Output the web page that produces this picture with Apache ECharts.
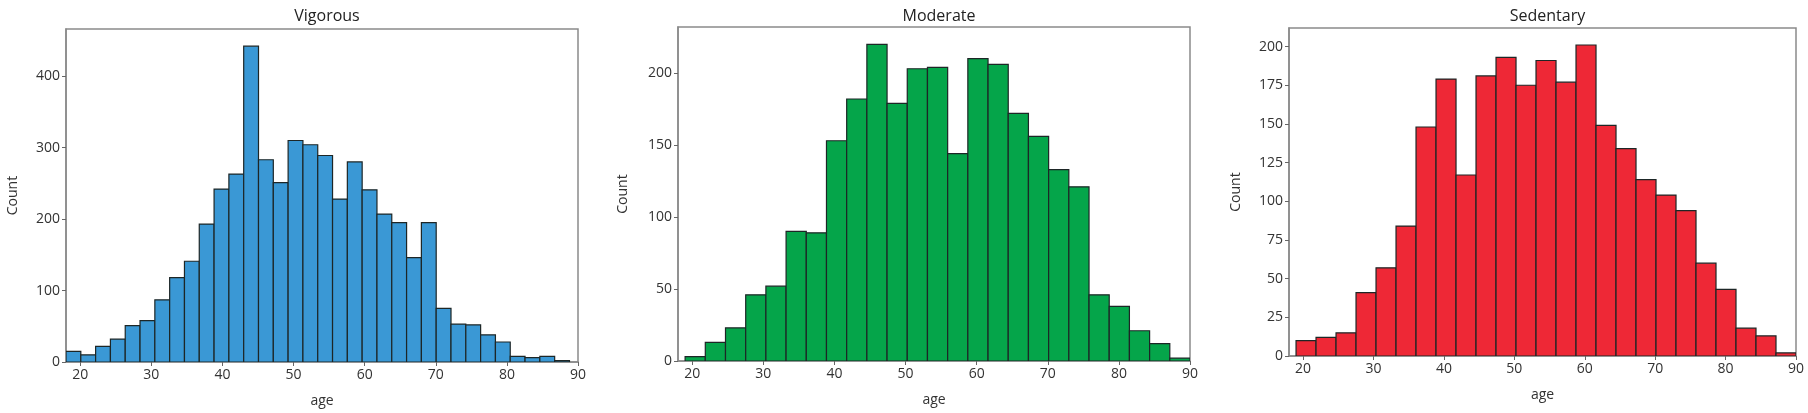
<!DOCTYPE html>
<html>
<head>
<meta charset="utf-8">
<title>age histograms</title>
<script src="https://cdn.jsdelivr.net/npm/echarts@6/dist/echarts.min.js"></script>
<style>
    html, body { margin: 0; padding: 0; background: #fff; }
    #chart { width: 1808px; height: 413px; }
</style>
</head>
<body>
<div id="chart"></div>
<script>
// histogram counts
var vigorousCounts = [15, 10, 22, 32, 51, 58, 87, 118, 141, 193, 242, 263, 442, 283, 251, 310, 304, 289,
    228, 280, 241, 207, 195, 146, 195, 75, 53, 52, 38, 28, 8, 6, 8, 2];
var moderateCounts = [3, 13, 23, 46, 52, 90, 89, 153, 182, 220, 179, 203, 204, 144, 210, 206, 172, 156,
    133, 121, 46, 38, 21, 12, 2];
var sedentaryCounts = [10, 12, 15, 41, 57, 84, 148, 179, 117, 181, 193, 175, 191, 177, 201, 149, 134, 114,
    104, 94, 60, 43, 18, 13, 2];

// bin ranges (first edge, last edge)
var vigorousRange = [18, 88.8];
var moderateRange = [19, 90];
var sedentaryRange = [19, 90];

var ageTicks = [20, 30, 40, 50, 60, 70, 80, 90];
var vigorousTicks = [0, 100, 200, 300, 400];
var moderateTicks = [0, 50, 100, 150, 200];
var sedentaryTicks = [0, 25, 50, 75, 100, 125, 150, 175, 200];

var titles = ['Vigorous', 'Moderate', 'Sedentary'];
var colors = ['#3a98d5', '#05a54a', '#ee2836'];
var yMax = [466, 232, 212];

function bins(counts, range) {
    var w = (range[1] - range[0]) / counts.length;
    var out = [];
    for (var i = 0; i < counts.length; i++) {
        out.push([range[0] + i * w, range[0] + (i + 1) * w, counts[i]]);
    }
    return out;
}

var allBins = [
    bins(vigorousCounts, vigorousRange),
    bins(moderateCounts, moderateRange),
    bins(sedentaryCounts, sedentaryRange)
];
var yTicks = [vigorousTicks, moderateTicks, sedentaryTicks];

var grids = [
    {left: 66, top: 29, width: 512, height: 333},
    {left: 678, top: 27, width: 512, height: 334},
    {left: 1289, top: 28, width: 507, height: 328}
];
var nameGaps = [46, 48, 46];

var font = 'Open Sans';
var option = {
    animation: false,
    title: [],
    grid: [],
    xAxis: [],
    yAxis: [],
    series: []
};

for (var k = 0; k < 3; k++) {
    var g = grids[k];
    option.grid.push({
        left: g.left, top: g.top, width: g.width, height: g.height,
        show: true, borderColor: '#8a8a8a', borderWidth: 1.5, backgroundColor: '#fff'
    });
    option.title.push({
        text: titles[k],
        left: g.left + g.width / 2,
        top: 3,
        textAlign: 'center',
        textStyle: {fontFamily: font, fontSize: 16, fontWeight: 'normal', color: '#222'}
    });
    option.xAxis.push({
        type: 'value', gridIndex: k, min: 18, max: 90,
        name: 'age', nameLocation: 'middle', nameGap: 32,
        nameTextStyle: {fontFamily: font, fontSize: 14, color: '#333'},
        axisLine: {show: true, lineStyle: {color: '#8a8a8a', width: 1.5}},
        axisTick: {show: true, length: 4, customValues: ageTicks, lineStyle: {color: '#666'}},
        axisLabel: {customValues: ageTicks, fontFamily: font, fontSize: 14, color: '#333', margin: 6},
        splitLine: {show: false}
    });
    option.yAxis.push({
        type: 'value', gridIndex: k, min: 0, max: yMax[k],
        name: 'Count', nameLocation: 'middle', nameGap: nameGaps[k],
        nameTextStyle: {fontFamily: font, fontSize: 14, color: '#333'},
        axisLine: {show: true, lineStyle: {color: '#8a8a8a', width: 1.5}},
        axisTick: {show: true, length: 4, customValues: yTicks[k], lineStyle: {color: '#666'}},
        axisLabel: {customValues: yTicks[k], fontFamily: font, fontSize: 14, color: '#333', margin: 6},
        splitLine: {show: false}
    });
    option.series.push({
        type: 'custom',
        xAxisIndex: k,
        yAxisIndex: k,
        clip: true,
        encode: {x: [0, 1], y: 2},
        data: allBins[k],
        renderItem: (function (color) {
            return function (params, api) {
                var p0 = api.coord([api.value(0), api.value(2)]);
                var p1 = api.coord([api.value(1), 0]);
                return {
                    type: 'rect',
                    shape: {x: p0[0], y: p0[1], width: p1[0] - p0[0], height: p1[1] - p0[1]},
                    style: {fill: color, stroke: '#1d2626', lineWidth: 1.2}
                };
            };
        })(colors[k])
    });
}

var myChart = echarts.init(document.getElementById('chart'));
myChart.setOption(option);
</script>
</body>
</html>
